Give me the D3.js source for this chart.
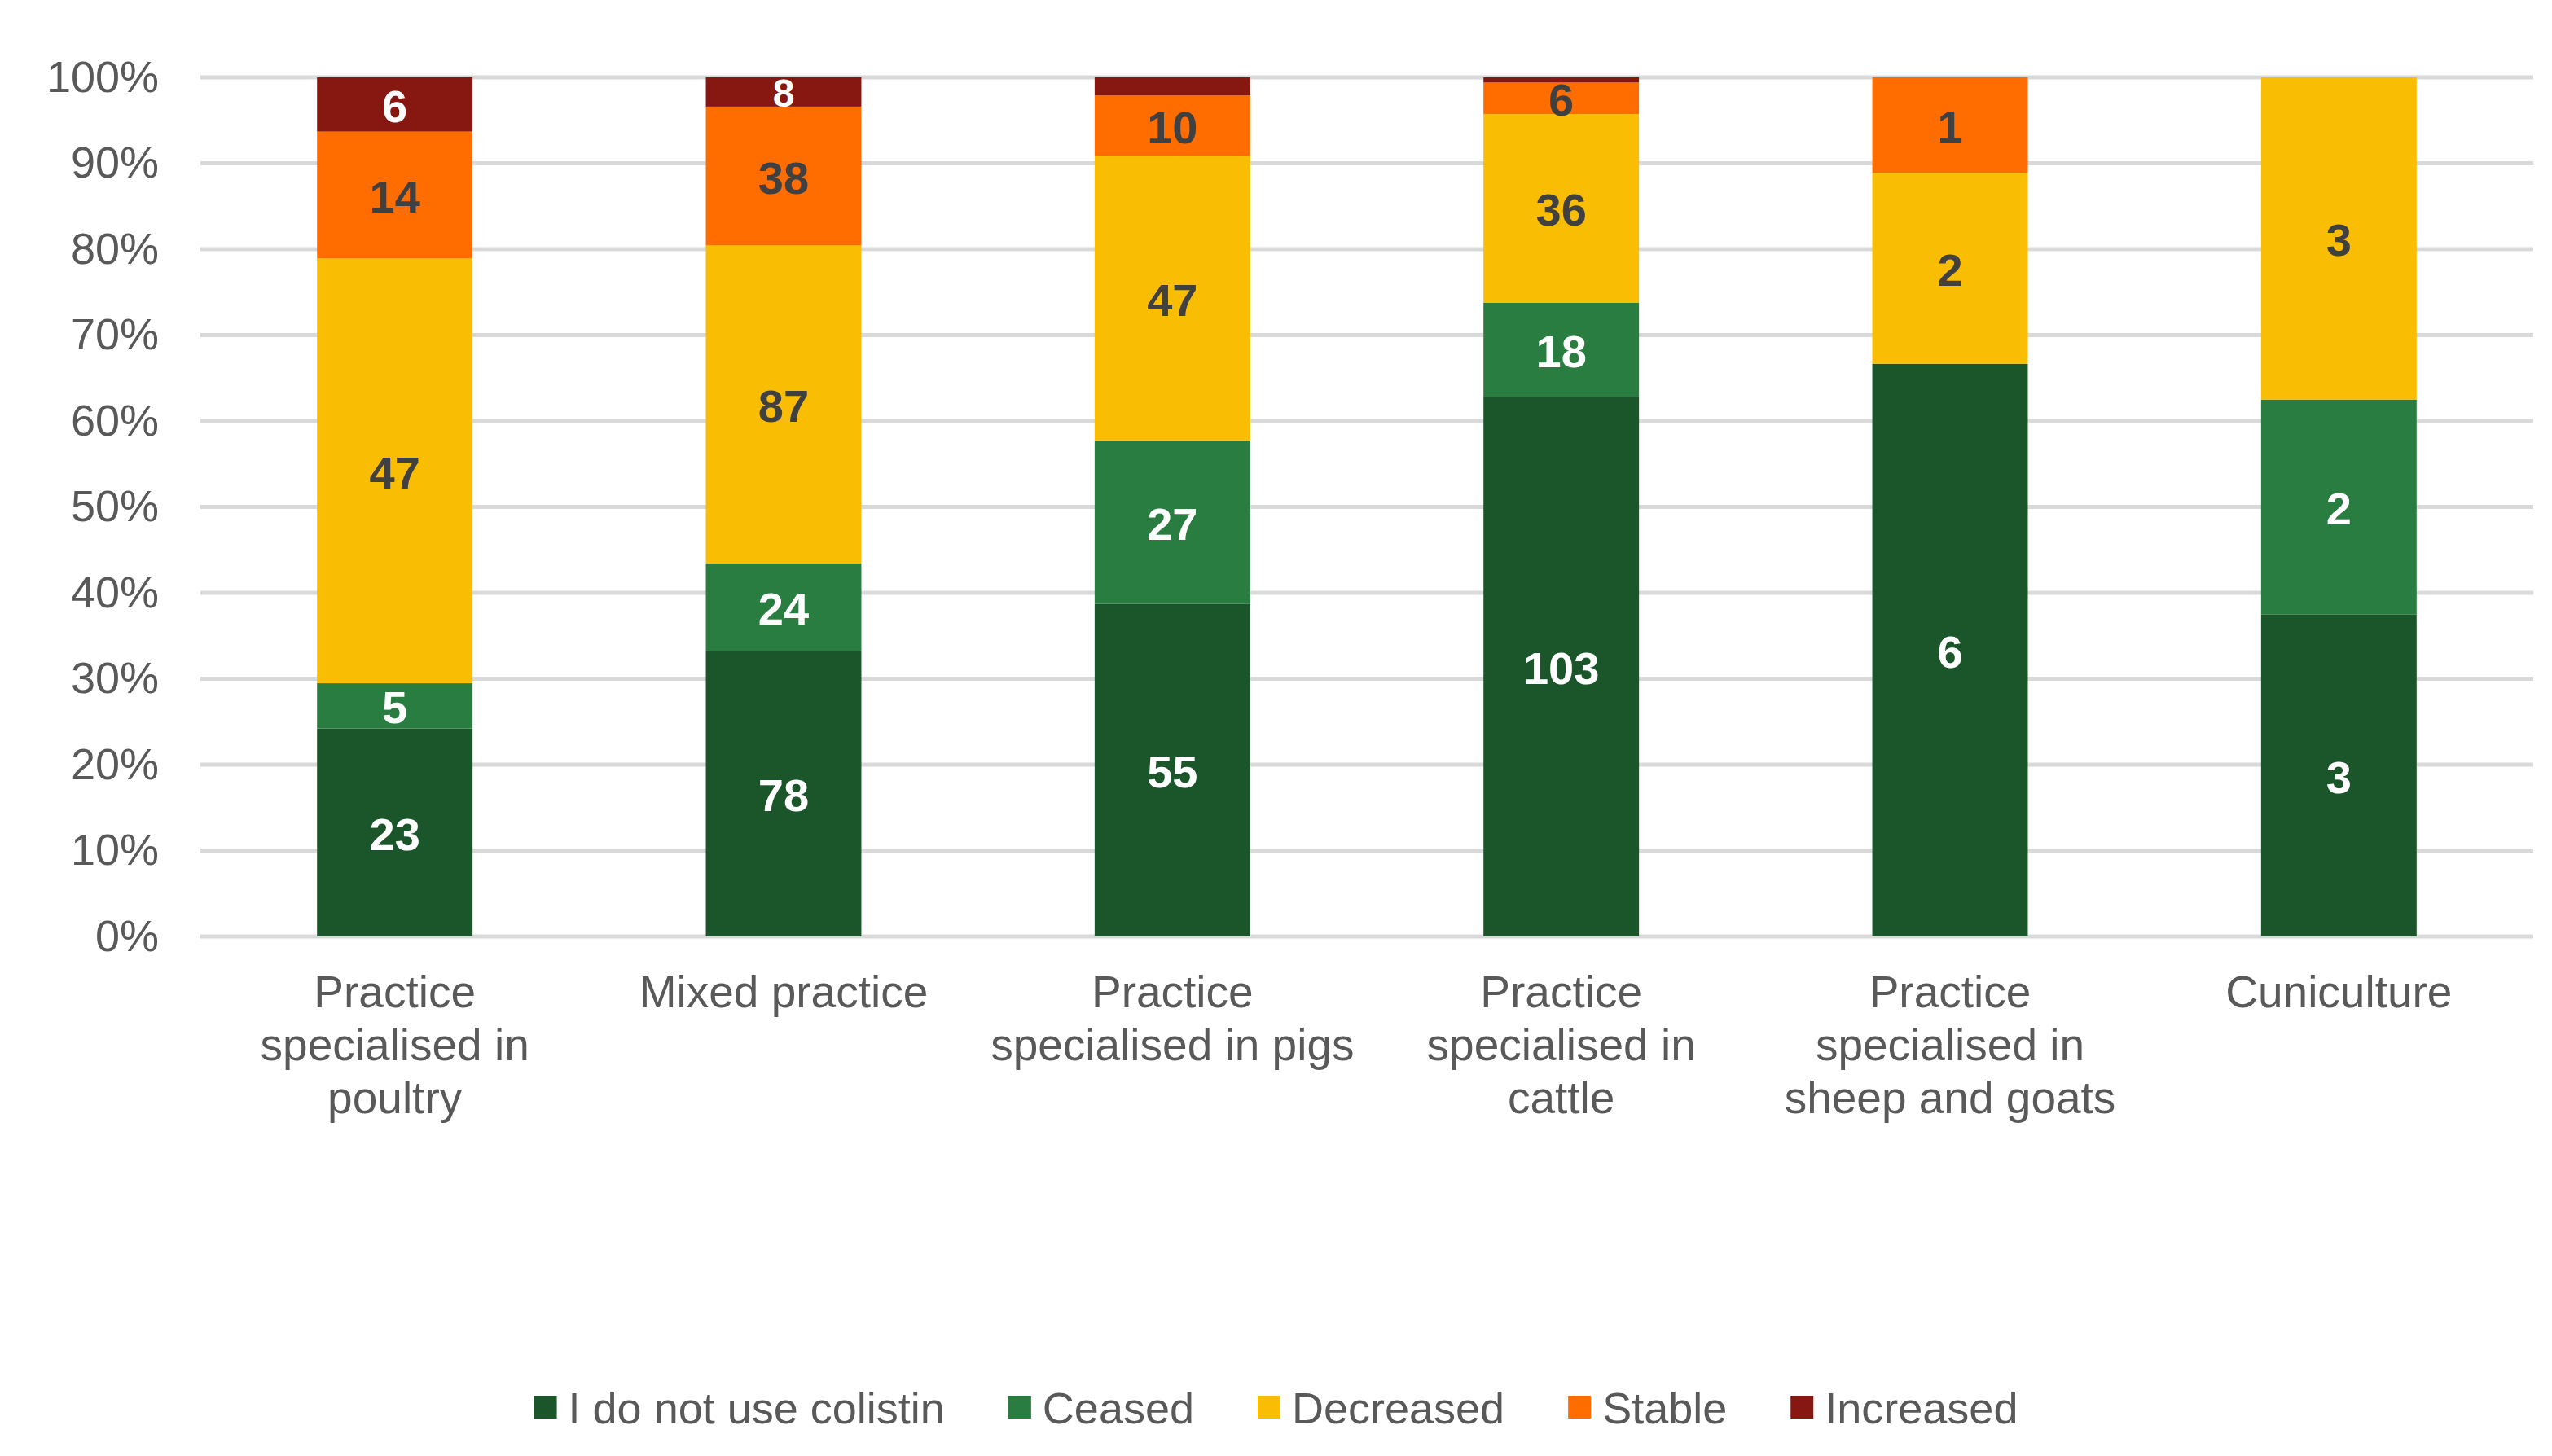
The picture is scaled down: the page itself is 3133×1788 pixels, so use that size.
<!DOCTYPE html>
<html lang="en">
<head>
<meta charset="UTF-8">
<title>Colistin use by practice type</title>
<script src="https://d3js.org/d3.v7.min.js"></script>
<style>
    * { margin: 0; padding: 0; }
    body { background: #fff; }
    svg { display: block; font-family: "Liberation Sans", Arial, sans-serif; }
    .grid line { stroke: #d9d9d9; stroke-width: 5; }
    .y-axis text { fill: #595959; font-size: 54px; }
    .x-axis text { fill: #595959; font-size: 55px; }
    .seg-label { font-weight: bold; font-size: 56px; text-anchor: middle; dominant-baseline: central; }
    .legend text { fill: #595959; font-size: 54px; dominant-baseline: central; }
</style>
</head>
<body>
<div id="chart"></div>
<script>
// categories and counts per answer (labels in bars are counts, bars are shares)
const categories = [
    "Practice specialised in poultry",
    "Mixed practice",
    "Practice specialised in pigs",
    "Practice specialised in cattle",
    "Practice specialised in sheep and goats",
    "Cuniculture"
];
const seriesNames = ["I do not use colistin", "Ceased", "Decreased", "Stable", "Increased"];
const notUsed   = [23, 78, 55, 103, 6, 3];
const ceased    = [5, 24, 27, 18, 0, 2];
const decreased = [47, 87, 47, 36, 2, 3];
const stable    = [14, 38, 10, 6, 1, 0];
const increased = [6, 8, 3, 1, 0, 0];
const yTicks = [0, 0.1, 0.2, 0.3, 0.4, 0.5, 0.6, 0.7, 0.8, 0.9, 1];

const colors = ["#1b562b", "#2a7d40", "#f9bd04", "#ff6d00", "#861811"];
const labelColors = ["#ffffff", "#ffffff", "#404040", "#404040", "#ffffff"];

const W = 3133, H = 1788;
const plotLeft = 246, plotRight = 3110, plotTop = 95, plotBottom = 1150;

const rows = categories.map((c, i) => ({
    cat: c,
    "I do not use colistin": notUsed[i],
    "Ceased": ceased[i],
    "Decreased": decreased[i],
    "Stable": stable[i],
    "Increased": increased[i]
}));

const stacked = d3.stack()
    .keys(seriesNames)
    .offset(d3.stackOffsetExpand)(rows);

const svg = d3.select("#chart").append("svg")
    .attr("width", W)
    .attr("height", H);

const x = d3.scaleBand()
    .domain(categories)
    .range([plotLeft, plotRight])
    .paddingInner(0.6)
    .paddingOuter(0.3);

const y = d3.scaleLinear()
    .domain([0, 1])
    .range([plotBottom, plotTop]);

// gridlines
svg.append("g").attr("class", "grid")
    .selectAll("line")
    .data(yTicks)
    .join("line")
    .attr("x1", plotLeft).attr("x2", plotRight)
    .attr("y1", d => y(d)).attr("y2", d => y(d));

// y axis labels
const yAxis = svg.append("g")
    .attr("class", "y-axis")
    .attr("transform", `translate(${plotLeft - 51},0)`)
    .call(d3.axisLeft(y).tickValues(yTicks).tickFormat(d3.format(".0%")).tickSize(0).tickPadding(0));
yAxis.select(".domain").remove();
yAxis.selectAll("text").attr("font-family", null).attr("font-size", null);

// bars
const layer = svg.append("g").selectAll("g")
    .data(stacked)
    .join("g")
    .attr("fill", (d, i) => colors[i]);

layer.selectAll("rect")
    .data(d => d)
    .join("rect")
    .attr("x", d => x(d.data.cat))
    .attr("width", x.bandwidth())
    .attr("y", d => y(d[1]))
    .attr("height", d => y(d[0]) - y(d[1]));

// segment labels (counts)
stacked.forEach((s, si) => {
    svg.append("g").selectAll("text")
        .data(s.filter(d => d.data[s.key] > 0 && (y(d[0]) - y(d[1])) >= 30))
        .join("text")
        .attr("class", "seg-label")
        .attr("fill", labelColors[si])
        .attr("x", d => x(d.data.cat) + x.bandwidth() / 2)
        .attr("y", d => (y(d[0]) + y(d[1])) / 2 + 2)
        .style("font-size", d => (y(d[0]) - y(d[1])) < 37 ? "48px" : null)
        .text(d => d.data[s.key]);
});

// x axis labels, wrapped to the band
const xAxis = svg.append("g")
    .attr("class", "x-axis")
    .attr("transform", `translate(0,${plotBottom})`)
    .call(d3.axisBottom(x).tickSize(0));
xAxis.select(".domain").remove();
xAxis.selectAll("text")
    .attr("font-family", null).attr("font-size", null)
    .attr("y", 87).attr("dy", null)
    .each(function(t) {
        const el = d3.select(this);
        const words = t.split(" ");
        el.text(null);
        let line = [];
        let ts = el.append("tspan").attr("x", 0).attr("dy", 0);
        words.forEach(w => {
            line.push(w);
            ts.text(line.join(" "));
            if (ts.node().getComputedTextLength() > 470 && line.length > 1) {
                line.pop();
                ts.text(line.join(" "));
                line = [w];
                ts = el.append("tspan").attr("x", 0).attr("dy", 65).text(w);
            }
        });
    });

// legend
const legend = svg.append("g").attr("class", "legend");
const sq = 28, pad = 14, gap = 78, ly = 1728;
let lx = 0;
seriesNames.forEach((name, i) => {
    const g = legend.append("g").attr("transform", `translate(${lx},0)`);
    g.append("rect").attr("x", 0).attr("y", ly - sq / 2).attr("width", sq).attr("height", sq).attr("fill", colors[i]);
    const t = g.append("text").attr("x", sq + pad).attr("y", ly + 1).text(name);
    lx += sq + pad + t.node().getComputedTextLength() + gap;
});
const legendW = lx - gap;
legend.attr("transform", `translate(${W / 2 - legendW / 2},0)`);
</script>
</body>
</html>
